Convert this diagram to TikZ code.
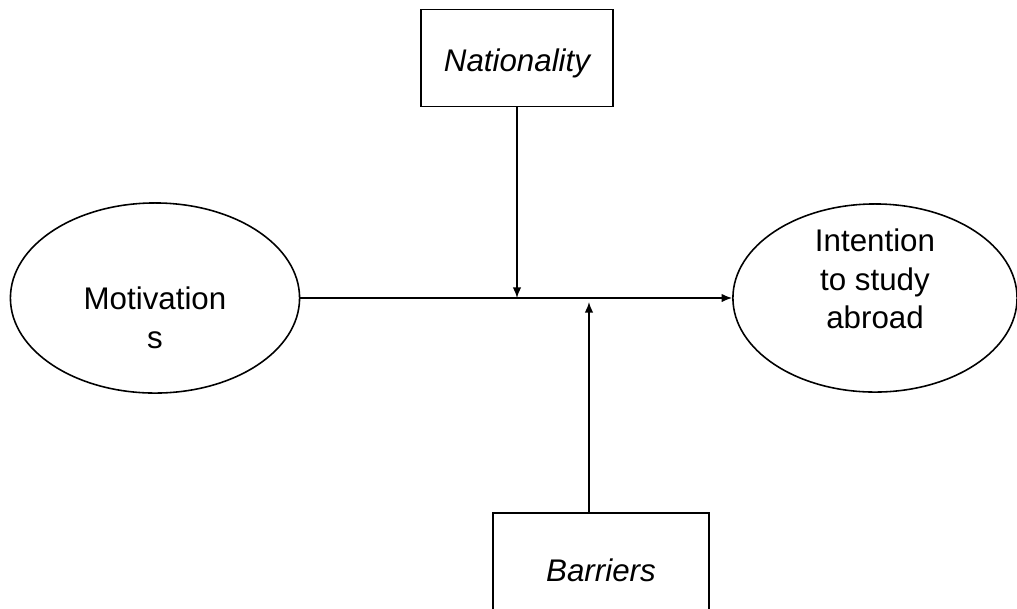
\documentclass[tikz,border=0pt]{standalone}
\usepackage{fontspec}
\setmainfont{Liberation Sans}
\usetikzlibrary{shapes.geometric}
\usetikzlibrary{arrows.meta}
\tikzstyle{factor}=[draw, minimum width=1.92cm, inner sep=0pt, line width=0.5pt, font=\fontsize{8.9}{11}\selectfont\itshape]
\tikzstyle{construct}=[draw, ellipse, inner sep=0pt, line width=0.45pt]
\tikzstyle{construct text}=[align=center, inner sep=0pt, font=\fontsize{8.9}{11}\selectfont]
\tikzstyle{path}=[line width=0.4pt, -{Latex[length=3pt,width=2.4pt]}]

\begin{document}
\begin{tikzpicture}[x=0.01cm, y=-0.01cm]
      \useasboundingbox (0, 0) rectangle (1017, 608);
      \clip (0, 0) rectangle (1017, 608);
      \node[construct, minimum width=2.89cm, minimum height=1.9cm,
        label={[construct text, yshift=-0.2cm]center:{Motivation\\s}}] (mot) at (155, 298) {};
      \node[construct, minimum width=2.84cm, minimum height=1.88cm,
        label={[construct text, yshift=0.19cm]center:{Intention\\to study\\abroad}}] (int) at (875, 298) {};
      \node[factor, minimum height=0.97cm, text height=9.6pt, text depth=2pt] (nat) at (517, 58) {Nationality};
      \node[factor, minimum width=2.16cm, minimum height=1.14cm] (bar) at (601, 570) {Barriers};
      \draw[path] (mot.east) -- (int.west);
      \draw[path] (nat.south) -- (nat.south |- mot.east);
      \draw[path] ([xshift=-0.12cm]bar.north) -- ([xshift=-0.12cm, yshift=-0.04cm]bar.north |- mot.east);
    \end{tikzpicture}
\end{document}
